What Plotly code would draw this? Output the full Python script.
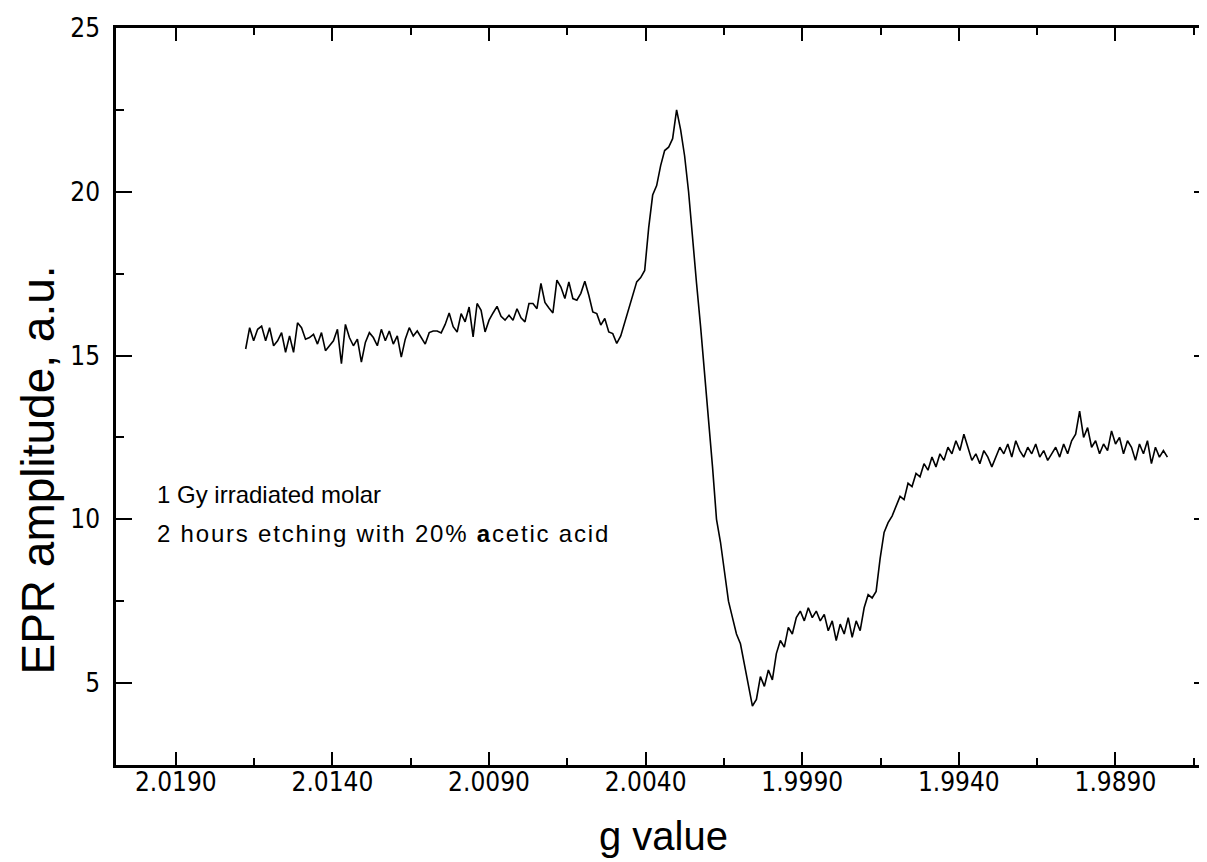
import numpy as np
import plotly.graph_objects as go

# ---- data ----
g_start = 2.01677   # first recorded g value (left end of trace)
g_end = 1.98734     # last recorded g value (right end of trace)

amplitude = [
    15.2, 15.85, 15.45, 15.8, 15.9, 15.45, 15.85, 15.3, 15.45, 15.7,
    15.1, 15.6, 15.1, 16.0, 15.85, 15.5, 15.55, 15.65, 15.35, 15.7,
    15.15, 15.3, 15.45, 15.8, 14.75, 15.95, 15.55, 15.3, 15.5, 14.8,
    15.4, 15.7, 15.55, 15.3, 15.8, 15.45, 15.75, 15.35, 15.6, 14.95,
    15.5, 15.85, 15.6, 15.75, 15.55, 15.35, 15.7, 15.75, 15.75,
    15.69, 15.95, 16.3, 15.88, 15.72, 16.28, 16.03, 16.48, 15.57, 16.59,
    16.38, 15.72, 16.08, 16.3, 16.5, 16.2, 16.08, 16.23, 16.08, 16.43,
    16.15, 16.03, 16.59, 16.59, 16.43, 17.2, 16.62, 16.45, 16.3, 17.3,
    17.09, 16.74, 17.25, 16.74, 16.69, 16.9, 17.27, 16.84, 16.33, 16.28,
    15.93, 16.13, 15.72, 15.67, 15.37, 15.6,
    16.0, 16.46, 16.86, 17.25, 17.38, 17.6, 18.9, 19.9, 20.19, 20.8,
    21.26, 21.36, 21.62, 22.5,
    21.9, 21.1, 20.0, 18.5, 17.2, 15.9, 14.5, 13.1, 11.6, 10.0,
    9.3, 8.4, 7.5, 7.0, 6.5, 6.2, 5.6, 5.0, 4.3, 4.5,
    5.2, 4.9, 5.4, 5.1, 5.9, 6.3, 6.1, 6.7, 6.5, 7.0,
    7.2, 6.9, 7.3, 7.0, 7.2, 6.9, 7.1, 6.6, 6.9, 6.3,
    6.8, 6.5, 7.0, 6.4, 6.9, 6.6, 7.3, 7.7, 7.6, 7.8,
    8.8, 9.6, 9.9, 10.1, 10.4, 10.7, 10.6, 11.1, 11.0, 11.4,
    11.3, 11.7, 11.5, 11.9, 11.6, 12.0, 11.8, 12.2, 12.0, 12.4,
    12.1, 12.6, 12.2, 11.8, 12.0, 11.7, 12.1, 11.9, 11.6, 11.9,
    12.2, 12.0, 12.3, 11.9, 12.4, 12.1, 11.9, 12.2, 12.0, 12.3,
    11.9, 12.1, 11.8, 12.0, 12.2, 11.9, 12.3, 12.0, 12.4, 12.6,
    13.3, 12.5, 12.8, 12.2, 12.4, 12.0, 12.3, 12.1, 12.7, 12.3,
    12.5, 12.0, 12.4, 12.2, 11.8, 12.3, 12.0, 12.4, 11.7, 12.2,
    11.9, 12.1, 11.9,
]

x_ticks = [2.0190, 2.0140, 2.0090, 2.0040, 1.9990, 1.9940, 1.9890]
x_tick_labels = ["2.0190", "2.0140", "2.0090", "2.0040", "1.9990", "1.9940", "1.9890"]
x_range = [2.02091, 1.98598]
y_range = [2.5, 25]

note_lines = ["1 Gy irradiated molar",
              "<span style='letter-spacing:1.8px'>2 hours etching with 20% <b>a</b>cetic acid</span>"]
note_pos = [(2.01967, 10.76), (2.01967, 9.57)]

# sweep positions of the recorded points (uniform field sweep)
g_values = np.linspace(g_start, g_end, len(amplitude))

tick_font = dict(family="Liberation Sans Narrow, DejaVu Sans Condensed, Liberation Sans, Arial",
                 size=26, color="black")

fig = go.Figure()
fig.add_trace(go.Scatter(x=g_values, y=amplitude, mode="lines",
                         line=dict(color="black", width=1.6), showlegend=False))

fig.update_layout(
    width=1207, height=862,
    margin=dict(l=108, r=2, t=20, b=105),
    plot_bgcolor="white", paper_bgcolor="white",
    font=dict(family="Liberation Sans, Arial", color="black"),
)

fig.update_xaxes(
    range=x_range, tickmode="array", tickvals=x_ticks, ticktext=x_tick_labels,
    ticks="inside", ticklen=13, tickwidth=2, tickcolor="black",
    minor=dict(tickmode="array",
               tickvals=[v - 0.0025 for v in x_ticks] + [x_ticks[0] + 0.0025],
               ticks="inside", ticklen=7, tickwidth=1.5, tickcolor="black"),
    showline=True, linecolor="black", linewidth=2.5, mirror="ticks",
    showgrid=False, zeroline=False, tickfont=tick_font, ticklabelstandoff=-8,
)
fig.update_yaxes(
    range=y_range, tick0=0, dtick=5,
    ticks="inside", ticklen=16, tickwidth=2, tickcolor="black",
    minor=dict(dtick=2.5, tick0=0, ticks="inside", ticklen=8, tickwidth=1.5, tickcolor="black"),
    showline=True, linecolor="black", linewidth=2.5, mirror="ticks",
    showgrid=False, zeroline=False, tickfont=tick_font, ticklabelstandoff=8,
)

for text, (gx, vy) in zip(note_lines, note_pos):
    fig.add_annotation(x=gx, y=vy, xref="x", yref="y", text=text, showarrow=False,
                       xanchor="left", yanchor="middle",
                       font=dict(family="Liberation Sans, Arial", size=24, color="black"))

fig.add_annotation(x=0.5, y=-0.097, xref="paper", yref="paper", text="g value",
                   showarrow=False, xanchor="center", yanchor="middle",
                   font=dict(family="Liberation Sans, Arial", size=40, color="black"))
fig.add_annotation(x=-0.071, y=0.40, xref="paper", yref="paper", text="EPR amplitude, a.u.",
                   showarrow=False, textangle=-90, xanchor="center", yanchor="middle",
                   font=dict(family="Liberation Sans, Arial", size=46, color="black"))

fig.write_html("out.html")
